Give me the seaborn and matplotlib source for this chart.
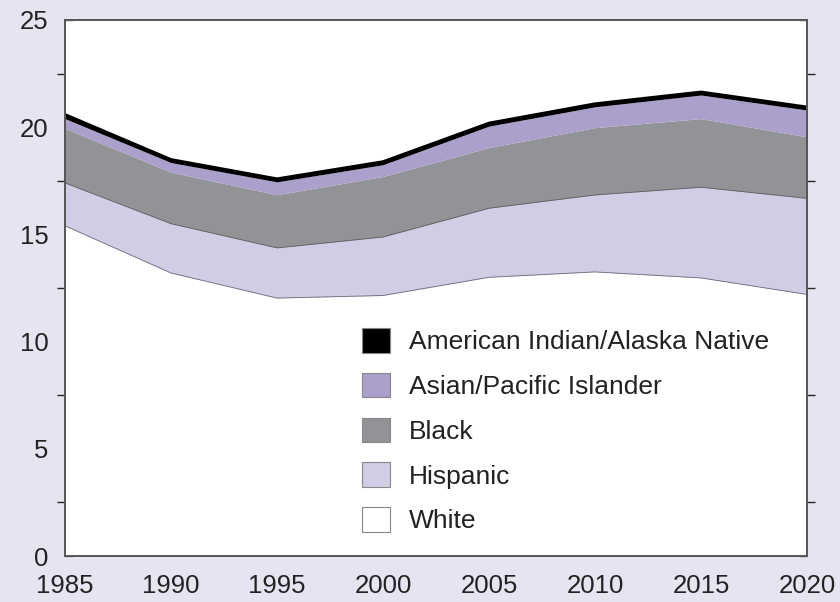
import matplotlib
matplotlib.use("Agg")
import matplotlib.pyplot as plt
from matplotlib.patches import Patch
import seaborn as sns
import numpy as np

years = [1985, 1990, 1995, 2000, 2005, 2010, 2015, 2020]

# stacked layers, bottom to top
white = [15.4, 13.2, 12.03, 12.15, 13.0, 13.25, 12.97, 12.2]
hispanic = [2.0, 2.3, 2.34, 2.73, 3.22, 3.59, 4.23, 4.48]
black = [2.55, 2.4, 2.48, 2.82, 2.83, 3.14, 3.2, 2.87]
asian = [0.45, 0.45, 0.6, 0.55, 1.0, 0.97, 1.1, 1.25]
am_indian = [0.2, 0.15, 0.15, 0.15, 0.15, 0.15, 0.15, 0.15]

labels = ["White", "Hispanic", "Black", "Asian/Pacific Islander",
          "American Indian/Alaska Native"]
colors = ["#ffffff", "#d2cce5", "#929397", "#ab9fcc", "#000000"]

bg = "#e6e4f0"

sns.set_style("white")
plt.rcParams["font.family"] = ["Liberation Sans", "DejaVu Sans"]

fig = plt.figure(figsize=(8.4, 6.02), dpi=100, facecolor=bg)
ax = fig.add_axes([0.0774, 0.0764, 0.8833, 0.8904])
ax.set_facecolor("white")

layers = [white, hispanic, black, asian, am_indian]
ax.stackplot(years, *layers, colors=colors, linewidth=0)

# thin edges between bands
tops = np.cumsum(np.array(layers), axis=0)
ax.plot(years, tops[0], color="#6e6a78", lw=0.6)
ax.plot(years, tops[1], color="#5e5e64", lw=0.6)
ax.plot(years, tops[4], color="black", lw=1.8)

ax.set_xlim(1985, 2020)
ax.set_ylim(0, 25)
ax.set_xticks(years)
ax.set_yticks([0, 5, 10, 15, 20, 25])
ax.set_yticks(np.arange(2.5, 25, 5), minor=True)

ax.tick_params(axis="both", direction="in", colors="#555555",
               labelcolor="#222222", labelsize=18.5)
ax.tick_params(axis="x", length=8, width=1, pad=13)
ax.tick_params(axis="y", which="both", length=6, width=1, pad=12,
               right=True, left=True)

for side in ["left", "right", "top", "bottom"]:
    ax.spines[side].set_color("#555555")
    ax.spines[side].set_linewidth(1.4)

handles = [Patch(facecolor=c, edgecolor="#888888", linewidth=0.8, label=l)
           for c, l in zip(colors, labels)][::-1]
leg = ax.legend(handles=handles, loc="upper left",
                bbox_to_anchor=(0.4, 0.425), frameon=False,
                fontsize=19, handlelength=1.05, handleheight=1.05,
                handletextpad=0.75, labelspacing=0.7, borderpad=0,
                borderaxespad=0)
for t in leg.get_texts():
    t.set_color("#222222")

fig.savefig("out.png", dpi=100, facecolor=bg)
